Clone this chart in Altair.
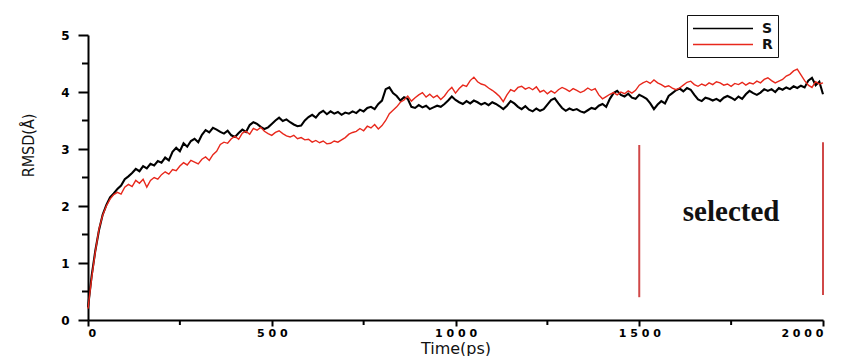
import altair as alt
import pandas as pd

# ---------------- data ----------------
time_ps = list(range(0, 2001, 10))

rmsd_S = [
    0.22, 0.78, 1.22, 1.58, 1.85, 2.02, 2.15, 2.22, 2.30, 2.36,
    2.47, 2.52, 2.58, 2.65, 2.61, 2.70, 2.66, 2.74, 2.71, 2.79,
    2.76, 2.85, 2.80, 2.95, 3.02, 2.96, 3.10, 3.04, 3.14, 3.18,
    3.12, 3.25, 3.33, 3.29, 3.37, 3.34, 3.30, 3.27, 3.32, 3.24,
    3.21, 3.28, 3.34, 3.30, 3.42, 3.47, 3.44, 3.39, 3.35, 3.38,
    3.44, 3.50, 3.55, 3.49, 3.52, 3.47, 3.43, 3.40, 3.41, 3.50,
    3.56, 3.60, 3.55, 3.63, 3.67, 3.61, 3.66, 3.62, 3.65, 3.60,
    3.64, 3.62, 3.66, 3.63, 3.69, 3.66, 3.72, 3.74, 3.70, 3.79,
    3.85, 4.05, 4.08, 3.98, 3.93, 3.85, 3.91, 3.88, 3.74, 3.72,
    3.77, 3.73, 3.76, 3.70, 3.73, 3.76, 3.74, 3.79, 3.85, 3.92,
    3.86, 3.82, 3.79, 3.84, 3.80, 3.85, 3.82, 3.78, 3.81, 3.77,
    3.82, 3.79, 3.75, 3.70, 3.76, 3.84, 3.80, 3.74, 3.70, 3.75,
    3.69, 3.66, 3.71, 3.67, 3.70, 3.78, 3.86, 3.89, 3.80, 3.72,
    3.67, 3.71, 3.68, 3.70, 3.66, 3.64, 3.68, 3.72, 3.70, 3.76,
    3.79, 3.74, 3.88, 3.98, 4.02, 3.95, 3.92, 3.97, 3.90, 3.88,
    3.95, 3.92, 3.88, 3.80, 3.70, 3.78, 3.84, 3.80, 3.93, 3.98,
    4.03, 4.06, 4.01, 4.07, 4.04, 3.95, 3.87, 3.84, 3.90, 3.88,
    3.85, 3.88, 3.84, 3.90, 3.93, 3.90, 3.86, 3.92, 3.88, 3.96,
    4.02, 3.98, 3.95, 3.99, 4.05, 4.02, 4.05, 4.00, 4.07, 4.04,
    4.08, 4.05, 4.10, 4.07, 4.11, 4.08, 4.20, 4.25, 4.12, 4.18,
    3.96,
]

rmsd_R = [
    0.20, 0.74, 1.20, 1.60, 1.84, 2.00, 2.12, 2.20, 2.24, 2.21,
    2.33, 2.38, 2.34, 2.45, 2.40, 2.47, 2.33, 2.45, 2.50, 2.47,
    2.55, 2.60, 2.56, 2.64, 2.62, 2.70, 2.76, 2.72, 2.80, 2.77,
    2.74, 2.82, 2.86, 2.80, 2.90, 2.96, 3.08, 3.12, 3.10, 3.18,
    3.22, 3.17, 3.28, 3.31, 3.26, 3.36, 3.33, 3.38, 3.31, 3.27,
    3.24, 3.29, 3.32, 3.27, 3.23, 3.21, 3.24, 3.18, 3.20, 3.16,
    3.17, 3.12, 3.15, 3.11, 3.14, 3.09, 3.10, 3.14, 3.12, 3.16,
    3.20, 3.26, 3.29, 3.31, 3.36, 3.32, 3.40, 3.37, 3.43, 3.35,
    3.41, 3.50, 3.62, 3.68, 3.74, 3.82, 3.86, 3.93, 3.84, 3.90,
    3.95, 3.99, 3.91, 3.96, 3.90, 3.94, 3.87, 3.93, 4.02, 4.08,
    3.98, 4.06, 4.12, 4.10, 4.20, 4.26, 4.18, 4.14, 4.12, 4.07,
    4.03, 3.98, 3.92, 3.83, 3.95, 4.04, 4.01, 4.08, 4.10, 4.05,
    4.08, 4.04, 4.09, 4.00, 4.03, 3.97, 4.02, 3.98, 4.04, 4.08,
    4.05, 4.01, 4.06, 4.03, 3.99, 4.02, 4.07, 4.03, 4.06, 3.95,
    3.88, 3.92, 3.96, 3.99, 3.95, 4.00, 3.97, 4.02, 3.98, 4.03,
    4.12, 4.16, 4.19, 4.15, 4.21, 4.16, 4.13, 4.09, 4.11, 4.07,
    4.04, 4.07, 4.12, 4.17, 4.19, 4.13, 4.10, 4.14, 4.11, 4.16,
    4.13, 4.18, 4.16, 4.12, 4.14, 4.10, 4.15, 4.13, 4.17, 4.12,
    4.16, 4.14, 4.19, 4.16, 4.22, 4.25, 4.20, 4.16, 4.19, 4.22,
    4.28, 4.31, 4.37, 4.40, 4.30, 4.20, 4.12, 4.08, 4.18, 4.14,
    4.16,
]

series_names = ["S", "R"]
series_colors = ["#000000", "#e8281c"]

x_major = [0, 500, 1000, 1500, 2000]
x_minor = [250, 750, 1250, 1750]
y_major = [0, 1, 2, 3, 4, 5]
y_minor = [0.5, 1.5, 2.5, 3.5, 4.5]

# "selected" window markers
sel_x = [1500, 2000]
sel_y0 = [0.40, 0.44]
sel_y1 = [3.07, 3.12]
note_text = ["selected"]
note_x = [1750]
note_y = [1.90]

# ---------------- tables ----------------
df_S = pd.DataFrame({"t": time_ps, "rmsd": rmsd_S, "series": "S"})
df_R = pd.DataFrame({"t": time_ps, "rmsd": rmsd_R, "series": "R"})
df_sel = pd.DataFrame({"t": sel_x, "rmsd": sel_y0, "rmsd2": sel_y1})
df_note = pd.DataFrame({"t": note_x, "rmsd": note_y, "text": note_text})
df_xminor = pd.DataFrame({"t": x_minor})
df_yminor = pd.DataFrame({"rmsd": y_minor})

xscale = alt.Scale(domain=[0, 2000], nice=False, zero=False)
yscale = alt.Scale(domain=[0, 5], nice=False)

x_axis = alt.Axis(
    values=x_major,
    title="Time(ps)",
    titleFont="DejaVu Sans",
    titleFontSize=16,
    titleFontWeight="normal",
    titleY=33,
    titleBaseline="alphabetic",
    tickSize=6,
    labelPadding=1,
    labelFontSize=11,
    labelExpr="replace(format(datum.value, 'd'), regexp('(\\\\d)(?=\\\\d)', 'g'), '$1 ')",
)
y_axis = alt.Axis(
    values=y_major,
    title="RMSD(Å)",
    titleFont="DejaVu Sans Condensed, Liberation Sans Narrow, sans-serif",
    titleFontSize=16,
    titleFontWeight="normal",
    titleX=-60,
    titleY=110,
    titleAlign="center",
    titleBaseline="middle",
    titleAngle=270,
    tickSize=10,
    labelPadding=9,
    labelFontSize=12,
)

X = alt.X("t:Q", scale=xscale, axis=x_axis, title="Time(ps)")
Y = alt.Y("rmsd:Q", scale=yscale, axis=y_axis, title="RMSD(Å)")

color = alt.Color(
    "series:N",
    scale=alt.Scale(domain=series_names, range=series_colors),
    legend=alt.Legend(
        title=None,
        orient="none",
        legendX=599,
        legendY=-20,
        direction="vertical",
        symbolType="M-1,0H7",
        symbolSize=225,
        symbolStrokeWidth=1.6,
        labelFont="DejaVu Sans",
        labelFontSize=14,
        labelFontWeight="bold",
        labelColor="#111111",
        labelOffset=53,
        strokeColor="#111111",
        padding=5,
        rowPadding=0,
    ),
)

line_S = alt.Chart(df_S).mark_line(strokeWidth=2.1).encode(x=X, y=Y, color=color)
line_R = alt.Chart(df_R).mark_line(strokeWidth=1.4).encode(x=X, y=Y, color=color)

sel_rules = alt.Chart(df_sel).mark_rule(color="#d04848", strokeWidth=2).encode(
    x=X, y=Y, y2="rmsd2:Q"
)

note = alt.Chart(df_note).mark_text(
    font="Liberation Serif, Times New Roman, serif",
    fontSize=29,
    fontWeight="bold",
    color="#111111",
    align="center",
    baseline="middle",
).encode(x=X, y=Y, text="text:N")

x_minor_ticks = alt.Chart(df_xminor).mark_rule(color="black", strokeWidth=2).encode(
    x=X, y=alt.value(285), y2=alt.value(290)
)
y_minor_ticks = alt.Chart(df_yminor).mark_rule(color="black", strokeWidth=2).encode(
    y=Y, x=alt.value(-6), x2=alt.value(0)
)

chart = (
    alt.layer(sel_rules, note, line_S, line_R, x_minor_ticks, y_minor_ticks)
    .properties(
        width=735,
        height=285,
        autosize=alt.AutoSizeParams(type="none"),
        padding={"left": 80, "top": 27, "right": 15, "bottom": 36},
    )
    .configure_view(stroke=None)
    .configure_axis(
        grid=False,
        domainColor="black",
        domainWidth=2,
        tickColor="black",
        tickWidth=2,
        labelFont="DejaVu Sans",
        labelFontWeight="bold",
        labelColor="black",
        titleColor="#111111",
    )
)

chart.save("out.html", embed_options={"renderer": "svg", "actions": False})
